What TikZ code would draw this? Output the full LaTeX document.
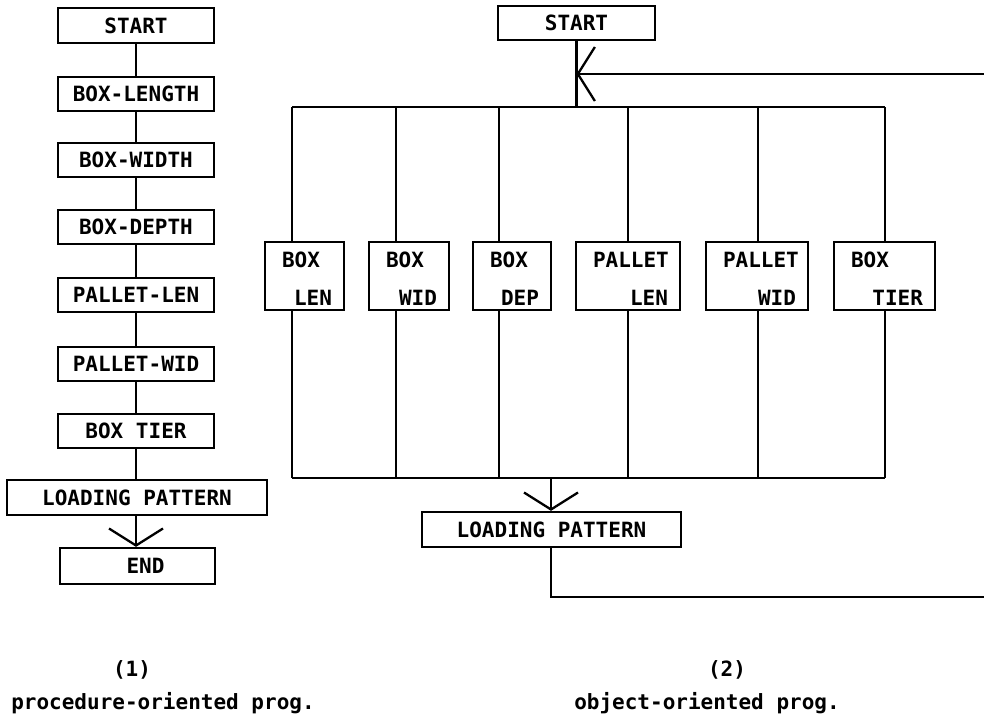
\documentclass[tikz,border=0pt]{standalone}
\usepackage{fontspec}
\newfontfamily\pfont{DejaVu Sans Mono}
\usetikzlibrary{arrows.meta}
\begin{document}
\begin{tikzpicture}[x=1pt,y=-1pt,
  line width=2.3pt,
  txt/.style={font=\pfont\bfseries\fontsize{21}{25}\selectfont, inner sep=0pt},
  box/.style={draw, rectangle, inner sep=0pt, font=\pfont\bfseries\fontsize{21}{25}\selectfont},
  obox/.style={draw, rectangle, inner sep=0pt, minimum height=68pt},
  vee/.style={-{Straight Barb[length=17pt,width=54pt,line width=2.3pt]}}]
\useasboundingbox (0,0) rectangle (984,715);
% ---------- (1) procedure-oriented ----------
\node[box, minimum width=156pt, minimum height=35pt] (s1) at (136,25.5) {START};
\node[box, minimum width=156pt, minimum height=34pt] (s2) at (136,94) {BOX-LENGTH};
\node[box, minimum width=156pt, minimum height=34pt] (s3) at (136,160) {BOX-WIDTH};
\node[box, minimum width=156pt, minimum height=34pt] (s4) at (136,227) {BOX-DEPTH};
\node[box, minimum width=156pt, minimum height=34pt] (s5) at (136,295) {PALLET-LEN};
\node[box, minimum width=156pt, minimum height=34pt] (s6) at (136,364) {PALLET-WID};
\node[box, minimum width=156pt, minimum height=34pt] (s7) at (136,431) {BOX TIER};
\node[box, minimum width=260pt, minimum height=35pt] (s8) at (137,497.5) {LOADING PATTERN};
\node[box, minimum width=155pt, minimum height=36pt] (s9) at (137.5,566) {\hspace*{16pt}END};
\draw (s1.south) -- (s2.north);
\draw (s2.south) -- (s3.north);
\draw (s3.south) -- (s4.north);
\draw (s4.south) -- (s5.north);
\draw (s5.south) -- (s6.north);
\draw (s6.south) -- (s7.north);
\draw (s7.south) -- (s7.south |- s8.north);
\draw[vee] (s8.south -| s7.south) -- (s7.south |- s9.north);
\node[txt] (c1) at (132,670) {(1)};
\node[txt] (c1t) at (163,703) {procedure-oriented prog.};
% ---------- (2) object-oriented ----------
\node[box, minimum width=157pt, minimum height=34pt] (r0) at (576.5,23) {START};
\node[obox, minimum width=79pt] (b1) at (304.5,276) {};
\node[obox, minimum width=80pt] (b2) at (409,276) {};
\node[obox, minimum width=78pt] (b3) at (512,276) {};
\node[obox, minimum width=104pt] (b4) at (628,276) {};
\node[obox, minimum width=102pt] (b5) at (757,276) {};
\node[obox, minimum width=101pt] (b6) at (884.5,276) {};
\foreach \b/\ta/\tb in {b1/BOX/LEN, b2/BOX/WID, b3/BOX/DEP, b4/PALLET/LEN, b5/PALLET/WID, b6/BOX/TIER}{
  \node[txt, anchor=west] (\b a) at ([shift={(17,19)}]\b.north west) {\ta};
  \node[txt, anchor=east] (\b b) at ([shift={(-12,-13)}]\b.south east) {\tb};
}
\node[box, minimum width=259pt, minimum height=35pt] (r7) at (551.5,529.5) {LOADING PATTERN};
% bus coordinates
\coordinate (t1) at (292,107); \coordinate (u1) at (292,478);
\coordinate (t2) at (396,107); \coordinate (u2) at (396,478);
\coordinate (t3) at (499,107); \coordinate (u3) at (499,478);
\coordinate (t4) at (628,107); \coordinate (u4) at (628,478);
\coordinate (t5) at (758,107); \coordinate (u5) at (758,478);
\coordinate (t6) at (885,107); \coordinate (u6) at (885,478);
\draw (t1) -- (t6);
\draw (u1) -- (u6);
\foreach \i in {1,...,6}{
  \draw (t\i) -- (t\i |- b\i.north);
  \draw (b\i.south -| u\i) -- (u\i);
}
\draw (r0.south) -- (r0.south |- t1);
\coordinate (re) at (984,74);
\draw[vee] (re) -- (re -| r0.south);
\coordinate (m) at (551,478);
\draw[vee] (m) -- (m |- r7.north);
\coordinate (rb) at (984,597);
\draw (r7.south -| m) |- (rb);
\node[txt] (c2) at (727,670) {(2)};
\node[txt] (c2t) at (707,703) {object-oriented prog.};
\end{tikzpicture}
\end{document}
